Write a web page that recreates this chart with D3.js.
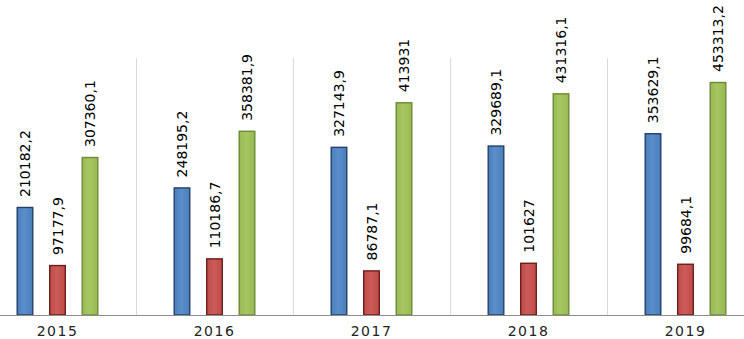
<!DOCTYPE html>
<html>
<head>
<meta charset="utf-8">
<script src="https://cdn.jsdelivr.net/npm/d3@7"></script>
<style>
  body { margin: 0; background: #fff; }
  svg { display: block; }
  .bar-label { font-family: "DejaVu Sans", Verdana, sans-serif; font-size: 14px; fill: #000; }
  .year-label { font-family: "DejaVu Sans", Verdana, sans-serif; font-size: 14px; letter-spacing: 1.5px; fill: #222; }
</style>
</head>
<body>
<div id="chart"></div>
<script>
// chart data
const years = ['2015', '2016', '2017', '2018', '2019'];
const seriesNames = ['s1', 's2', 's3'];
const s1Values = [210182.2, 248195.2, 327143.9, 329689.1, 353629.1];
const s2Values = [97177.9, 110186.7, 86787.1, 101627, 99684.1];
const s3Values = [307360.1, 358381.9, 413931, 431316.1, 453313.2];

const seriesStyle = {
  s1: {fill: '#4a7ebb', light: '#5b8fcc', stroke: '#24406b'},
  s2: {fill: '#be4b48', light: '#cc5c59', stroke: '#6e1e1c'},
  s3: {fill: '#98b954', light: '#a7c662', stroke: '#6e8a36'}
};

const width = 744, height = 339;
const baseY = 315, topY = 58;

const svg = d3.select('#chart').append('svg')
    .attr('width', width)
    .attr('height', height);

// soft gradient on bars, like the office style
const defs = svg.append('defs');
seriesNames.forEach(s => {
  const g = defs.append('linearGradient')
      .attr('id', 'grad-' + s)
      .attr('x1', '0%').attr('x2', '100%').attr('y1', '0%').attr('y2', '0%');
  g.append('stop').attr('offset', '0%').attr('stop-color', seriesStyle[s].fill);
  g.append('stop').attr('offset', '45%').attr('stop-color', seriesStyle[s].light);
  g.append('stop').attr('offset', '100%').attr('stop-color', seriesStyle[s].fill);
});

const x0 = d3.scaleBand()
    .domain(years)
    .range([-21, 764]);

const x1 = d3.scaleBand()
    .domain(seriesNames)
    .range([0, x0.bandwidth()])
    .paddingInner(0.49)
    .paddingOuter(1.16);

const y = d3.scaleLinear()
    .domain([0, 500000])
    .range([baseY, topY]);

const rows = years.map((yr, i) => ({
  year: yr,
  values: [
    {key: 's1', value: s1Values[i]},
    {key: 's2', value: s2Values[i]},
    {key: 's3', value: s3Values[i]}
  ]
}));

// vertical separators between categories
svg.append('g')
    .selectAll('line')
    .data(years.slice(1))
  .join('line')
    .attr('x1', d => Math.round(x0(d)) + 0.5)
    .attr('x2', d => Math.round(x0(d)) + 0.5)
    .attr('y1', y(500000))
    .attr('y2', baseY)
    .attr('stroke', '#d9d9d9')
    .attr('stroke-width', 1);

const fmt = v => String(v).replace('.', ',');

const groups = svg.append('g')
    .selectAll('g')
    .data(rows)
  .join('g')
    .attr('transform', d => `translate(${x0(d.year)},0)`);

groups.selectAll('rect')
    .data(d => d.values)
  .join('rect')
    .attr('x', d => x1(d.key) + 0.5)
    .attr('y', d => y(d.value) + 0.5)
    .attr('width', x1.bandwidth() - 1)
    .attr('height', d => baseY - y(d.value) - 0.5)
    .attr('fill', d => `url(#grad-${d.key})`)
    .attr('stroke', d => seriesStyle[d.key].stroke)
    .attr('stroke-width', 1.4);

groups.selectAll('text')
    .data(d => d.values)
  .join('text')
    .attr('class', 'bar-label')
    .attr('transform', d => `translate(${x1(d.key) + x1.bandwidth() / 2},${y(d.value) - 10}) rotate(-90)`)
    .attr('dy', '0.36em')
    .text(d => fmt(d.value));

// baseline
svg.append('line')
    .attr('x1', 0)
    .attr('x2', width)
    .attr('y1', baseY + 0.5)
    .attr('y2', baseY + 0.5)
    .attr('stroke', '#8c8c8c')
    .attr('stroke-width', 1);

// year labels
svg.append('g')
    .selectAll('text')
    .data(years)
  .join('text')
    .attr('class', 'year-label')
    .attr('x', d => x0(d) + x0.bandwidth() / 2)
    .attr('y', 336)
    .attr('text-anchor', 'middle')
    .text(d => d);
</script>
</body>
</html>
